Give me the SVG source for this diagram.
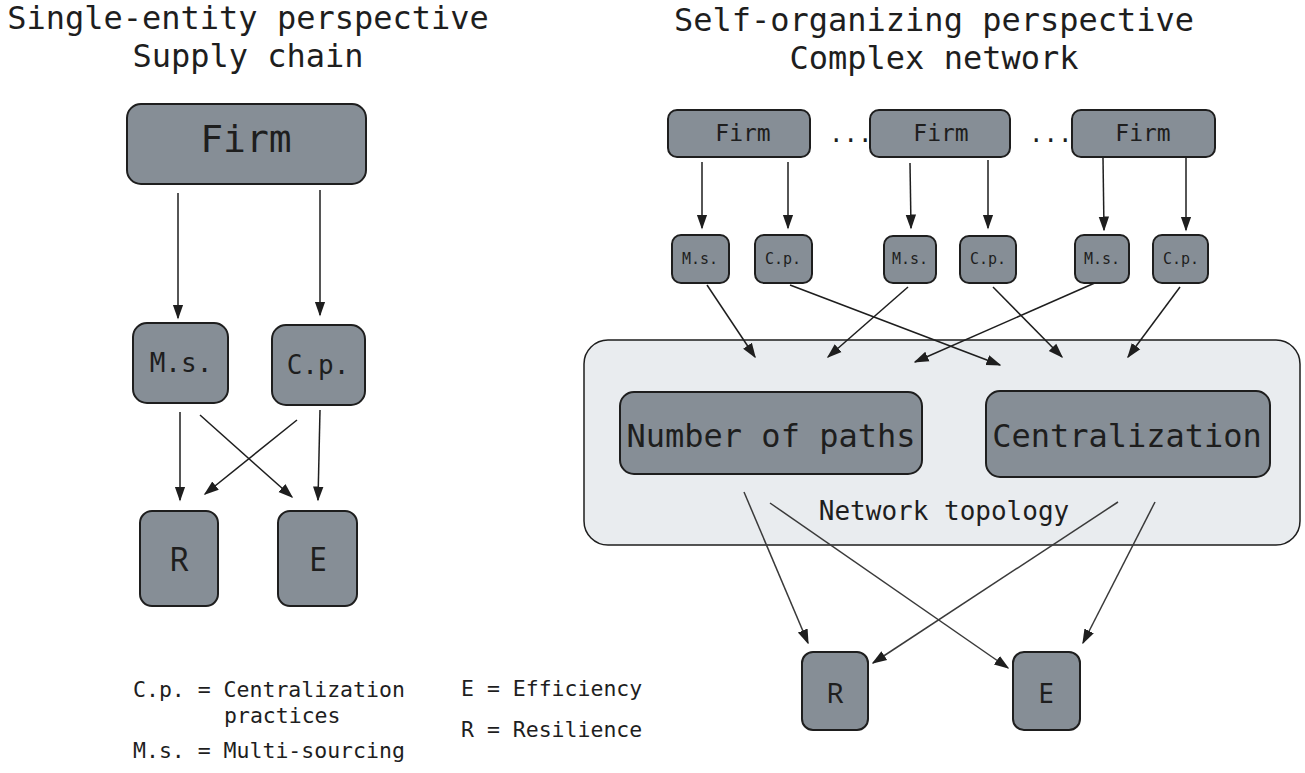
<svg xmlns="http://www.w3.org/2000/svg" width="1305" height="773" viewBox="0 0 1305 773">
<style>
.box{fill:#868e96;stroke:#1e1e1e;stroke-width:2}
.cont{fill:#e9ecef;stroke:#1e1e1e;stroke-width:1.5}
.mono{font-family:"DejaVu Sans Mono","Liberation Mono",monospace;fill:#1e1e1e}
.sans{font-family:"Noto Sans","Liberation Sans",sans-serif;fill:#1e1e1e}
.edge{stroke:#1e1e1e;stroke-width:1.5;fill:none;marker-end:url(#ah)}
.edge2{stroke:#3a3a3a;stroke-width:1.5;fill:none;marker-end:url(#ah)}
</style>
<defs>
<marker id="ah" viewBox="0 0 10 10" refX="9" refY="5" markerWidth="15" markerHeight="15" markerUnits="userSpaceOnUse" orient="auto">
<path d="M0,1.5 L10,5 L0,8.5 z" fill="#1e1e1e"/>
</marker>
</defs>
<rect width="1305" height="773" fill="#ffffff"/>
<g id="titles" class="mono" font-size="32" text-anchor="middle">
<text x="248" y="29">Single-entity perspective</text>
<text x="248" y="67">Supply chain</text>
<text x="934" y="31">Self-organizing perspective</text>
<text x="934" y="69">Complex network</text>
</g>
<g id="network-topology"><rect class="cont" x="584" y="340" width="716" height="205" rx="24"/><text class="mono" x="944" y="520" font-size="26" text-anchor="middle">Network topology</text></g>
<g id="connectors">
<path class="edge" d="M178,193 L178,318"/>
<path class="edge" d="M320,190 L320,315"/>
<path class="edge" d="M180,412 L180,500"/>
<path class="edge" d="M320,410 L318,500"/>
<path class="edge" d="M200,415 L292,497"/>
<path class="edge" d="M297,420 L205,494"/>
<path class="edge" d="M702,162 L702,228"/>
<path class="edge" d="M788,162 L788,228"/>
<path class="edge" d="M910,163 L911,228"/>
<path class="edge" d="M988,160 L988,228"/>
<path class="edge" d="M1103,158 L1104,230"/>
<path class="edge" d="M1186,158 L1186,230"/>
<path class="edge" d="M707,285 L755,357"/>
<path class="edge" d="M790,285 L1000,365"/>
<path class="edge" d="M908,287 L828,357"/>
<path class="edge" d="M993,287 L1062,357"/>
<path class="edge" d="M1097,282 L915,362"/>
<path class="edge" d="M1180,287 L1128,357"/>
<path class="edge2" d="M744,492 L808,643"/>
<path class="edge2" d="M770,503 L1008,668"/>
<path class="edge2" d="M1118,502 L873,663"/>
<path class="edge2" d="M1155,502 L1083,643"/>
</g>
<g id="firm-left"><rect class="box" x="127" y="104" width="239" height="80" rx="14"/><text class="mono" x="246" y="152" font-size="38" text-anchor="middle">Firm</text></g>
<g id="ms-left"><rect class="box" x="133" y="323" width="95" height="80" rx="14"/><text class="mono" x="181" y="372" font-size="26" text-anchor="middle">M.s.</text></g>
<g id="cp-left"><rect class="box" x="272" y="325" width="93" height="80" rx="14"/><text class="mono" x="318" y="374" font-size="26" text-anchor="middle">C.p.</text></g>
<g id="r-left"><rect class="box" x="140" y="511" width="78" height="95" rx="12"/><text class="sans" x="179" y="571" font-size="32" text-anchor="middle">R</text></g>
<g id="e-left"><rect class="box" x="278" y="511" width="79" height="95" rx="12"/><text class="sans" x="318" y="571" font-size="32" text-anchor="middle">E</text></g>
<g id="firm1"><rect class="box" x="668" y="110" width="142" height="47" rx="9"/><text class="mono" x="743" y="141" font-size="23" text-anchor="middle">Firm</text></g>
<g id="firm2"><rect class="box" x="870" y="110" width="140" height="47" rx="9"/><text class="mono" x="941" y="141" font-size="23" text-anchor="middle">Firm</text></g>
<g id="firm3"><rect class="box" x="1072" y="110" width="143" height="47" rx="9"/><text class="mono" x="1143" y="141" font-size="23" text-anchor="middle">Firm</text></g>
<g id="dots" class="mono" font-size="24"><text x="829" y="142">...</text><text x="1029" y="142">...</text></g>
<g id="ms1"><rect class="box" x="672" y="235" width="57" height="48" rx="9"/><text class="mono" x="700" y="264" font-size="15" text-anchor="middle">M.s.</text></g>
<g id="cp1"><rect class="box" x="755" y="235" width="57" height="48" rx="9"/><text class="mono" x="783" y="264" font-size="15" text-anchor="middle">C.p.</text></g>
<g id="ms2"><rect class="box" x="884" y="236" width="52" height="47" rx="9"/><text class="mono" x="910" y="264" font-size="15" text-anchor="middle">M.s.</text></g>
<g id="cp2"><rect class="box" x="960" y="236" width="56" height="47" rx="9"/><text class="mono" x="988" y="264" font-size="15" text-anchor="middle">C.p.</text></g>
<g id="ms3"><rect class="box" x="1075" y="235" width="54" height="48" rx="9"/><text class="mono" x="1102" y="264" font-size="15" text-anchor="middle">M.s.</text></g>
<g id="cp3"><rect class="box" x="1153" y="235" width="55" height="48" rx="9"/><text class="mono" x="1181" y="264" font-size="15" text-anchor="middle">C.p.</text></g>
<g id="paths"><rect class="box" x="620" y="392" width="302" height="82" rx="14"/><text class="mono" x="771" y="447" font-size="32" text-anchor="middle">Number of paths</text></g>
<g id="centralization"><rect class="box" x="986" y="391" width="284" height="86" rx="14"/><text class="mono" x="1127" y="447" font-size="32" text-anchor="middle">Centralization</text></g>
<g id="r-right"><rect class="box" x="802" y="652" width="66" height="78" rx="11"/><text class="sans" x="835" y="703" font-size="28" text-anchor="middle">R</text></g>
<g id="e-right"><rect class="box" x="1013" y="652" width="67" height="78" rx="11"/><text class="sans" x="1046" y="703" font-size="28" text-anchor="middle">E</text></g>
<g id="legend" class="mono" font-size="21.5">
<text x="133" y="697">C.p. = Centralization</text>
<text x="224" y="723">practices</text>
<text x="133" y="758">M.s. = Multi-sourcing</text>
<text x="461" y="696">E = Efficiency</text>
<text x="461" y="737">R = Resilience</text>
</g>
</svg>
